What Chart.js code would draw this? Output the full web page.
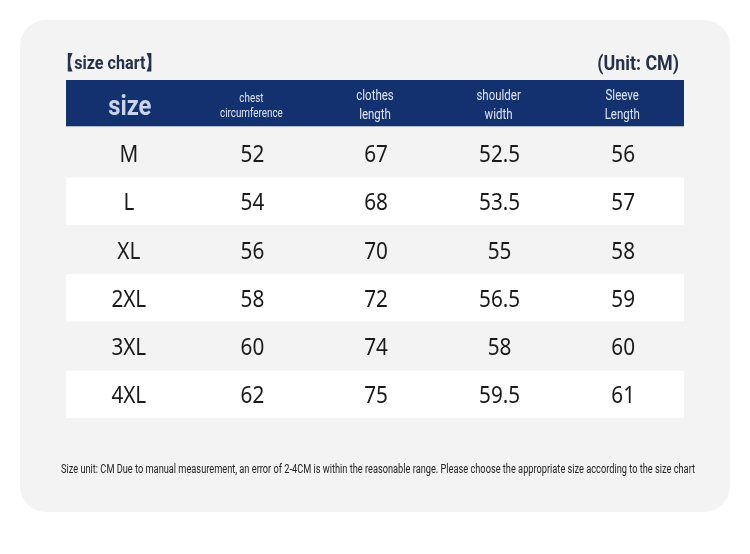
<!DOCTYPE html>
<html><head><meta charset="utf-8">
<script src="https://cdn.jsdelivr.net/npm/chart.js@4"></script>
<style>html,body{margin:0;padding:0;background:#fff}canvas{display:block}</style>
</head><body>
<div style="width:750px;height:554px"><canvas id="c"></canvas></div>
<script>
const title = "【size chart】";
const unitLabel = "(Unit: CM)";
const columns = ["size", "chest\ncircumference", "clothes\nlength", "shoulder\nwidth", "Sleeve\nLength"];
const sizes = ["M", "L", "XL", "2XL", "3XL", "4XL"];
const chest = ["52", "54", "56", "58", "60", "62"];
const clothesLength = ["67", "68", "70", "72", "74", "75"];
const shoulder = ["52.5", "53.5", "55", "56.5", "58", "59.5"];
const sleeve = ["56", "57", "58", "59", "60", "61"];
const footnote = "Size unit: CM Due to manual measurement, an error of 2-4CM is within the reasonable range. Please choose the appropriate size according to the size chart";

const rowKeys = ["header"].concat(sizes);
const colKeys = columns.map((c, i) => "c" + i);
const tableCols = [sizes, chest, clothesLength, shoulder, sleeve];

const narrow = '"Roboto","Liberation Sans",sans-serif';

function sText(ctx, text, x, y, sx) {
  ctx.save();
  ctx.translate(x, y);
  ctx.scale(sx, 1);
  ctx.fillText(text, 0, 0);
  ctx.restore();
}

const tablePlugin = {
  id: 'table',
  beforeDraw(chart) {
    const ctx = chart.ctx;
    ctx.save();
    ctx.fillStyle = '#ffffff';
    ctx.fillRect(0, 0, chart.width, chart.height);
    ctx.fillStyle = '#f3f3f3';
    ctx.beginPath();
    ctx.roundRect(20, 20, 710, 492, 26);
    ctx.fill();
    ctx.restore();
  },
  afterDraw(chart) {
    const ctx = chart.ctx, xs = chart.scales.x, ys = chart.scales.y;
    const area = chart.chartArea;
    const rh = (area.bottom - area.top) / rowKeys.length;
    ctx.save();
    rowKeys.forEach((rk, r) => {
      const yc = ys.getPixelForValue(r);
      const top = yc - rh / 2;
      if (r === 0) {
        ctx.fillStyle = '#13316f';
        ctx.fillRect(area.left, top, area.right - area.left, rh - 2);
      } else if (r % 2 === 0) {
        ctx.fillStyle = '#ffffff';
        ctx.fillRect(area.left, top + 1, area.right - area.left, rh - 1);
      }
    });
    ctx.textAlign = 'center';
    ctx.textBaseline = 'middle';
    const hy = ys.getPixelForValue(0) + 2;
    columns.forEach((name, c) => {
      const x = xs.getPixelForValue(c);
      if (c === 0) {
        ctx.fillStyle = '#c9d6ee';
        ctx.font = 'bold 28px ' + narrow;
        sText(ctx, name, x + 2, hy + 2, 0.85);
      } else {
        const lines = name.split('\n');
        ctx.fillStyle = '#dfe6f4';
        ctx.font = (c === 1 ? '12px ' : '14px ') + narrow;
        const lh = c === 1 ? 15 : 19;
        lines.forEach((l, i) => sText(ctx, l, x, hy + (i - (lines.length - 1) / 2) * lh, 0.82));
      }
    });
    ctx.fillStyle = '#1a1a1a';
    ctx.font = '23px "Noto Sans","DejaVu Sans",sans-serif';
    sizes.forEach((s, r) => {
      const y = ys.getPixelForValue(r + 1) + 3;
      tableCols.forEach((col, c) => sText(ctx, col[r], xs.getPixelForValue(c) + 1, y, 0.9));
    });
    ctx.fillStyle = '#243148';
    ctx.textBaseline = 'alphabetic';
    ctx.textAlign = 'left';
    ctx.font = 'bold 19px ' + narrow;
    sText(ctx, title, 58, 69, 0.85);
    ctx.textAlign = 'right';
    ctx.font = 'bold 21px ' + narrow;
    sText(ctx, unitLabel, 679, 70, 0.85);
    ctx.fillStyle = '#222';
    ctx.textAlign = 'center';
    ctx.font = '12px ' + narrow;
    ctx.save();
    ctx.translate(378, 473);
    const w = ctx.measureText(footnote).width;
    ctx.scale(634 / w, 1);
    ctx.fillText(footnote, 0, 0);
    ctx.restore();
    ctx.restore();
  }
};

new Chart(document.getElementById('c'), {
  type: 'scatter',
  data: { datasets: [] },
  options: {
    responsive: true,
    maintainAspectRatio: false,
    animation: false,
    events: [],
    layout: { padding: { left: 66, right: 66, top: 80, bottom: 136 } },
    plugins: { legend: { display: false }, tooltip: { enabled: false } },
    scales: {
      x: { type: 'category', labels: colKeys, display: false, offset: true },
      y: { type: 'category', labels: rowKeys, display: false, offset: true }
    }
  },
  plugins: [tablePlugin]
});
</script>
</body></html>
